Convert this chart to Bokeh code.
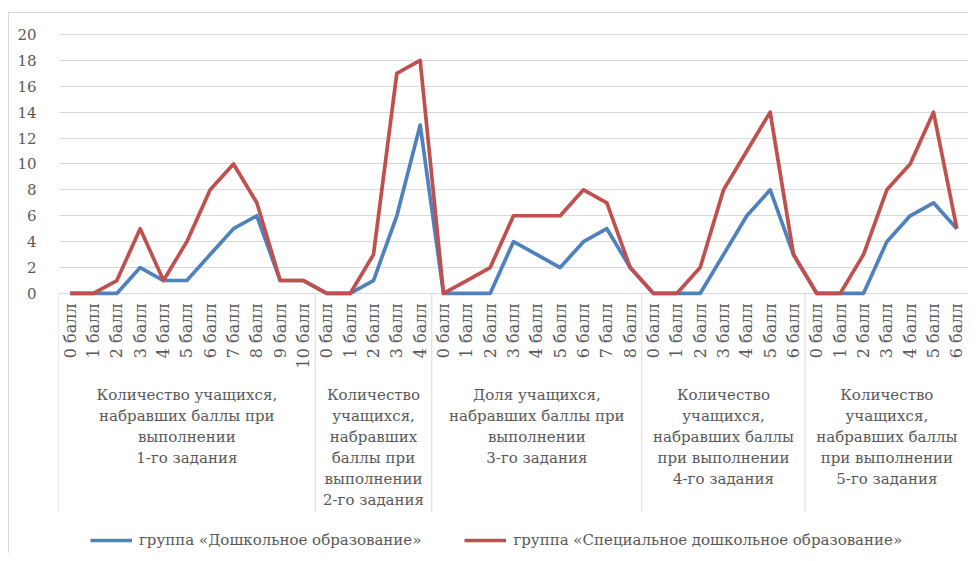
import math
from bokeh.plotting import figure
from bokeh.models import FixedTicker, Legend, LegendItem
from bokeh.core.properties import value
from bokeh.embed import file_html
from bokeh.resources import INLINE

# ---------------- data ----------------
scores_task1 = ["0 балл", "1 балл", "2 балл", "3 балл", "4 балл", "5 балл",
                "6 балл", "7 балл", "8 балл", "9 балл", "10 балл"]
scores_task2 = ["0 балл", "1 балл", "2 балл", "3 балл", "4 балл"]
scores_task3 = ["0 балл", "1 балл", "2 балл", "3 балл", "4 балл", "5 балл",
                "6 балл", "7 балл", "8 балл"]
scores_task4 = ["0 балл", "1 балл", "2 балл", "3 балл", "4 балл", "5 балл", "6 балл"]
scores_task5 = ["0 балл", "1 балл", "2 балл", "3 балл", "4 балл", "5 балл", "6 балл"]

group_titles = [
    ["Количество учащихся,", "набравших баллы при", "выполнении", "1-го задания"],
    ["Количество", "учащихся,", "набравших", "баллы при", "выполнении", "2-го задания"],
    ["Доля учащихся,", "набравших баллы при", "выполнении", "3-го задания"],
    ["Количество", "учащихся,", "набравших баллы", "при выполнении", "4-го задания"],
    ["Количество", "учащихся,", "набравших баллы", "при выполнении", "5-го задания"],
]

preschool_1 = [0, 0, 0, 2, 1, 1, 3, 5, 6, 1, 1]
preschool_2 = [0, 0, 1, 6, 13]
preschool_3 = [0, 0, 0, 4, 3, 2, 4, 5, 2]
preschool_4 = [0, 0, 0, 3, 6, 8, 3]
preschool_5 = [0, 0, 0, 4, 6, 7, 5]

special_1 = [0, 0, 1, 5, 1, 4, 8, 10, 7, 1, 1]
special_2 = [0, 0, 3, 17, 18]
special_3 = [0, 1, 2, 6, 6, 6, 8, 7, 2]
special_4 = [0, 0, 2, 8, 11, 14, 3]
special_5 = [0, 0, 3, 8, 10, 14, 5]

series_names = ["группа «Дошкольное образование»",
                "группа «Специальное дошкольное образование»"]
y_ticks = [0, 2, 4, 6, 8, 10, 12, 14, 16, 18, 20]

# ---------------- build ----------------
groups = [scores_task1, scores_task2, scores_task3, scores_task4, scores_task5]
labels = [s for g in groups for s in g]
xs = list(range(len(labels)))
blue_vals = preschool_1 + preschool_2 + preschool_3 + preschool_4 + preschool_5
red_vals = special_1 + special_2 + special_3 + special_4 + special_5

BLUE = "#4F81BD"
RED = "#C0504D"
GRID = "#D9D9D9"
TXT = "#595959"
FONT = "DejaVu Serif"

n = len(labels)
p = figure(width=968, height=553, output_backend="svg", toolbar_location=None,
           x_range=(-0.5, n - 0.5), y_range=(-20.08, 20.46),
           min_border_left=58, min_border_right=0, min_border_top=28,
           min_border_bottom=0)
p.outline_line_color = None
p.border_fill_color = None
p.background_fill_color = "white"
# faint outer chart border (top and left edges) painted behind the canvas
p.styles = {
    "background": ("linear-gradient(#D9D9D9, #D9D9D9) 8px 12px / 1px 100% no-repeat, "
                   "linear-gradient(#D9D9D9, #D9D9D9) 8px 12px / 100% 1px no-repeat, "
                   "white"),
}
p.xaxis.visible = False
p.xgrid.visible = False

p.yaxis.ticker = FixedTicker(ticks=y_ticks)
p.yaxis.axis_line_color = None
p.yaxis.major_tick_line_color = None
p.yaxis.minor_tick_line_color = None
p.yaxis.major_label_standoff = 16
p.yaxis.major_label_text_font = FONT
p.yaxis.major_label_text_font_size = "15px"
p.yaxis.major_label_text_color = TXT
p.ygrid.grid_line_color = GRID
p.ygrid.grid_line_width = 1

# group separators
bounds = [-0.5]
for g in groups:
    bounds.append(bounds[-1] + len(g))
p.segment(x0=bounds, y0=[0] * len(bounds), x1=bounds, y1=[-16.9] * len(bounds),
          line_color=GRID, line_width=1)

# category tick labels
p.text(x=xs, y=[0] * n, text=labels, angle=math.pi / 2,
       text_align="right", text_baseline="middle", y_offset=10,
       text_font=value(FONT), text_font_size="16px", text_color=TXT)

# group titles
start = 0
for g, title in zip(groups, group_titles):
    cx = start + (len(g) - 1) / 2
    for i, line in enumerate(title):
        p.text(x=[cx], y=[0], text=[line], text_align="center",
               text_baseline="middle", y_offset=102 + 21 * i,
               text_font=value(FONT), text_font_size="15px", text_color=TXT)
    start += len(g)

r1 = p.line(xs, blue_vals, line_color=BLUE, line_width=3.7, line_join="round")
r2 = p.line(xs, red_vals, line_color=RED, line_width=3.7, line_join="round")

legend = Legend(items=[LegendItem(label=series_names[0], renderers=[r1]),
                       LegendItem(label=series_names[1], renderers=[r2])],
                orientation="horizontal", location=(32, 3),
                border_line_color=None, background_fill_alpha=0,
                glyph_width=42, glyph_height=20, label_standoff=7, spacing=43,
                padding=0, margin=0,
                label_text_font=FONT, label_text_font_size="15px",
                label_text_color=TXT)
p.add_layout(legend)

open("out.html", "w").write(file_html(p, INLINE))
